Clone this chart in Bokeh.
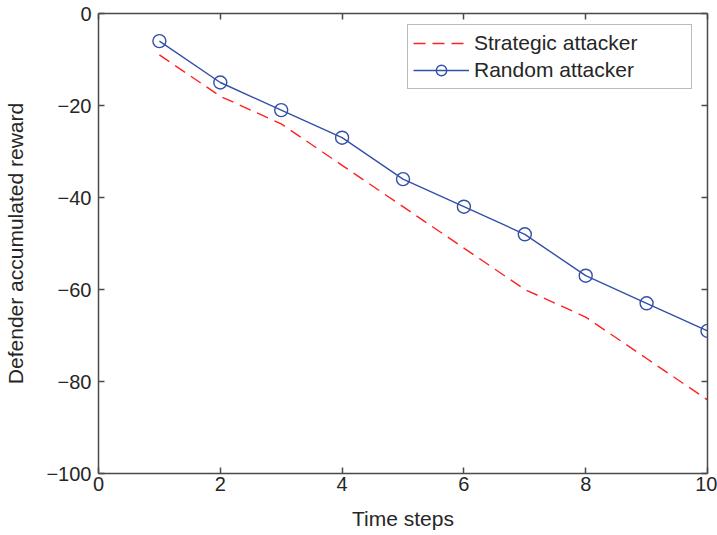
from bokeh.plotting import figure
from bokeh.models import Range1d, LinearAxis, Legend, LegendItem, FixedTicker
from bokeh.embed import file_html
from bokeh.resources import INLINE

time_steps = [1, 2, 3, 4, 5, 6, 7, 8, 9, 10]
strategic = [-9, -18, -24, -33, -42, -51, -60, -66, -75, -84]
random_att = [-6, -15, -21, -27, -36, -42, -48, -57, -63, -69]
x_ticks = [0, 2, 4, 6, 8, 10]
y_ticks = [0, -20, -40, -60, -80, -100]

FONT = "Liberation Sans"
AX = "#4a4a4a"
TXT = "#262626"

p = figure(width=717, height=535, output_backend="svg", toolbar_location=None,
           x_range=Range1d(0, 10), y_range=Range1d(-100, 0),
           min_border_left=98, min_border_right=10, min_border_top=13, min_border_bottom=62)
p.xgrid.visible = False
p.ygrid.visible = False
p.outline_line_color = None
p.background_fill_color = "white"
p.border_fill_color = "white"

def style(ax):
    ax.axis_line_color = AX
    ax.axis_line_width = 1.5
    ax.major_tick_line_color = AX
    ax.major_tick_line_width = 1.5
    ax.major_tick_in = 6
    ax.major_tick_out = 0
    ax.minor_tick_line_color = None
    ax.major_label_text_font = FONT
    ax.major_label_text_font_size = "20px"
    ax.major_label_text_color = TXT
    ax.axis_label_text_font = FONT
    ax.axis_label_text_font_size = "21px"
    ax.axis_label_text_font_style = "normal"
    ax.axis_label_text_color = TXT

p.xaxis.ticker = FixedTicker(ticks=x_ticks)
p.yaxis.ticker = FixedTicker(ticks=y_ticks)
p.yaxis.major_label_overrides = {v: ("\u2212" + str(-v) if v < 0 else str(v)) for v in y_ticks}
p.xaxis.axis_label = "Time steps"
p.yaxis.axis_label = "Defender accumulated reward"
p.xaxis.major_label_standoff = 3
p.yaxis.major_label_standoff = 7
p.xaxis.axis_label_standoff = 13
p.yaxis.axis_label_standoff = 16
style(p.xaxis[0])
style(p.yaxis[0])

top = LinearAxis(ticker=FixedTicker(ticks=x_ticks),
                 major_label_overrides={v: "" for v in x_ticks})
right = LinearAxis(ticker=FixedTicker(ticks=y_ticks),
                   major_label_overrides={v: "" for v in y_ticks})
style(top)
style(right)
top.major_label_standoff = 0
right.major_label_standoff = 0
p.add_layout(top, "above")
p.add_layout(right, "right")

red = "#ff2020"
blue = "#3350a8"
r1 = p.line(time_steps, strategic, line_color=red, line_width=1.4, line_dash="12 7")
r2 = p.line(time_steps, random_att, line_color=blue, line_width=1.4)
r3 = p.scatter(time_steps, random_att, size=13, marker="circle", fill_color=None,
               line_color=blue, line_width=1.4)

legend = Legend(items=[LegendItem(label="Strategic attacker", renderers=[r1]),
                       LegendItem(label="Random attacker", renderers=[r2, r3])],
                location=(309, 384))
legend.label_text_font = FONT
legend.label_text_font_size = "21px"
legend.label_text_color = TXT
legend.border_line_color = "#777777"
legend.border_line_width = 1
legend.background_fill_color = "white"
legend.padding = 5
legend.spacing = 1
legend.margin = 0
legend.glyph_width = 56
legend.glyph_height = 26
legend.label_height = 26
legend.label_standoff = 5
legend.label_width = 212
p.add_layout(legend, "center")

open("out.html", "w").write(file_html(p, INLINE))
